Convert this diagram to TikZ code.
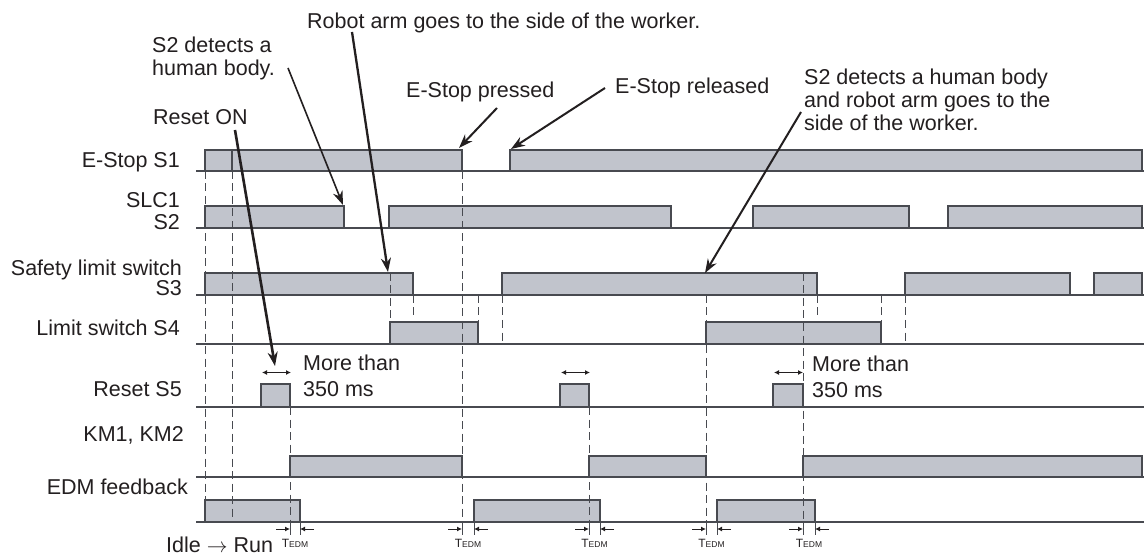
\documentclass[tikz,border=0pt]{standalone}
\usepackage{fontspec}
\setmainfont{Liberation Sans}
\usetikzlibrary{arrows.meta,positioning}
\definecolor{sigfill}{RGB}{193,196,204}
\definecolor{sigdraw}{RGB}{72,74,80}
\definecolor{txtdark}{RGB}{35,31,32}
\newcommand{\tedm}{{\fontsize{12}{12}\selectfont T}{\fontsize{8.5}{9}\selectfont EDM}}

\begin{document}
\begin{tikzpicture}[x=1pt,y=-1pt,
  pulse/.style={draw=sigdraw,fill=sigfill,line width=1.1pt},
  axis/.style={draw=sigdraw,line width=1.2pt},
  guide/.style={draw=sigdraw,line width=1pt,dash pattern=on 8pt off 4.5pt},
  callout/.style={-{Stealth[length=14pt,width=10pt]},line width=2pt,color=txtdark},
  dbl/.style={{Latex[length=5pt,width=5pt]}-{Latex[length=5pt,width=5pt]},line width=1.1pt,color=txtdark},
  gap/.style={-{Latex[length=5pt,width=5pt]},line width=1pt,color=txtdark},
  ticker/.style={draw=sigdraw,line width=1pt},
  lbl/.style={font=\fontsize{21.5}{23}\selectfont,text=txtdark,inner sep=0pt,align=right,anchor=base east},
  note/.style={font=\fontsize{21.5}{23}\selectfont,text=txtdark,inner sep=0pt,align=left,anchor=base west},
  tlbl/.style={text=txtdark,inner sep=0pt,anchor=base}
]
\fill[white] (0,0) rectangle (1144,556);
\useasboundingbox (0,0) rectangle (1144,556);

\foreach \y in {171,228,295,344,407,477,522}
  \draw[axis] (196,\y) -- (1144,\y);

\path[pulse] (205,150) rectangle (462,171) (510,150) rectangle (1142,171);
\path[pulse] (205,206) rectangle (344,228) (389,206) rectangle (671,228)
             (753,206) rectangle (909,228) (948,206) rectangle (1142,228);
\path[pulse] (205,273) rectangle (413,295) (502,273) rectangle (817,295)
             (905,273) rectangle (1070,295) (1094,273) rectangle (1142,295);
\path[pulse] (390,322) rectangle (478,344) (706,322) rectangle (881,344);
\path[pulse] (261,384) rectangle (290,407) (560,384) rectangle (589,407)
             (773,384) rectangle (803,407);
\path[pulse] (290,456) rectangle (462,477) (589,456) rectangle (706,477)
             (803,456) rectangle (1142,477);
\path[pulse] (205,500) rectangle (300,522) (474,500) rectangle (600,522)
             (717,500) rectangle (815,522);

\draw[ticker,line width=1.1pt] (232,150) -- (232,171);
\draw[guide] (205,171) -- (205,522);
\draw[guide] (232,171) -- (232,522);
\draw[guide] (290,407) -- (290,522);
\draw[guide] (390,273) -- (390,322);
\draw[guide] (413,295) -- (413,318);
\draw[guide] (462,171) -- (462,522);
\draw[guide] (478,295) -- (478,322);
\draw[guide] (502,295) -- (502,344);
\draw[guide] (589,407) -- (589,522);
\draw[guide] (706,295) -- (706,522);
\draw[guide] (803,273) -- (803,522);
\draw[guide] (817,295) -- (817,318);
\draw[guide] (881,295) -- (881,322);
\draw[guide] (905,295) -- (905,344);

\draw[dbl] (262,372.5) -- (291,372.5);
\draw[dbl] (561,372.5) -- (590,372.5);
\draw[dbl] (774,372.5) -- (803,372.5);

\draw[ticker] (290,522) -- (290,535) (300,522) -- (300,535);
\draw[gap] (276,529) -- (290,529);
\draw[gap] (314,529) -- (300,529);
\draw[ticker] (462,522) -- (462,535) (474,522) -- (474,535);
\draw[gap] (448,529) -- (462,529);
\draw[gap] (488,529) -- (474,529);
\draw[ticker] (589,522) -- (589,535) (600,522) -- (600,535);
\draw[gap] (575,529) -- (589,529);
\draw[gap] (614,529) -- (600,529);
\draw[ticker] (706,522) -- (706,535) (717,522) -- (717,535);
\draw[gap] (692,529) -- (706,529);
\draw[gap] (731,529) -- (717,529);
\draw[ticker] (803,522) -- (803,535) (815,522) -- (815,535);
\draw[gap] (789,529) -- (803,529);
\draw[gap] (829,529) -- (815,529);

\node[tlbl] (te1) at (295,547.5) {\tedm};
\node[tlbl] (te2) at (468,547.5) {\tedm};
\node[tlbl] (te3) at (594.5,547.5) {\tedm};
\node[tlbl] (te4) at (711.5,547.5) {\tedm};
\node[tlbl] (te5) at (809,547.5) {\tedm};

\node[lbl] (es1) at (180,167.5) {E-Stop S1};
\node[lbl] (slc) at (180,229.5) {SLC1\\[-1.3pt]S2};
\node[lbl] (sls) at (182,295.5) {Safety limit switch\\[-3pt]S3};
\node[lbl] (ls4) at (180,335.5) {Limit switch S4};
\node[lbl] (rs5) at (182,396.5) {Reset S5};
\node[lbl] (km) at (184,441.5) {KM1, KM2};
\node[lbl] (edm) at (188,494) {EDM feedback};
\node[note] (idle) at (166,552) {Idle $\rightarrow$ Run};

\node[note] (more1) at (303,396.5) {More than\\[3pt]350 ms};
\node[note] (more2) at (812,397.5) {More than\\[3pt]350 ms};

\node[note] (robot) at (307,29) {Robot arm goes to the side of the worker.};
\node[note] (s2det) at (152,76) {S2 detects a\\human body.};
\node[note] (rston) at (153,124.5) {Reset ON};
\node[note] (espr) at (406,97.5) {E-Stop pressed};
\node[note] (esrel) at (615,93.5) {E-Stop released};
\node[note] (s2rob) at (804,130.5) {S2 detects a human body\\and robot arm goes to the\\side of the worker.};

\coordinate (rstonFrom) at (235,130);
\coordinate (rstonTip) at (275,366);
\coordinate (s2detFrom) at (288,68);
\coordinate (s2detTip) at (343,205);
\coordinate (robotFrom) at (352,32);
\coordinate (robotTip) at (388,272);
\coordinate (esprFrom) at (497,108);
\coordinate (esprTip) at (459,148);
\coordinate (esrelFrom) at (605,88);
\coordinate (esrelTip) at (511,149);
\coordinate (s2robFrom) at (801,112);
\coordinate (s2robTip) at (705,273);

\draw[callout,line width=2.6pt] (rstonFrom) -- (rstonTip);
\draw[callout,line width=1.6pt] (s2detFrom) -- (s2detTip);
\draw[callout,line width=2.3pt] (robotFrom) -- (robotTip);
\draw[callout] (esprFrom) -- (esprTip);
\draw[callout] (esrelFrom) -- (esrelTip);
\draw[callout] (s2robFrom) -- (s2robTip);
\end{tikzpicture}
\end{document}
